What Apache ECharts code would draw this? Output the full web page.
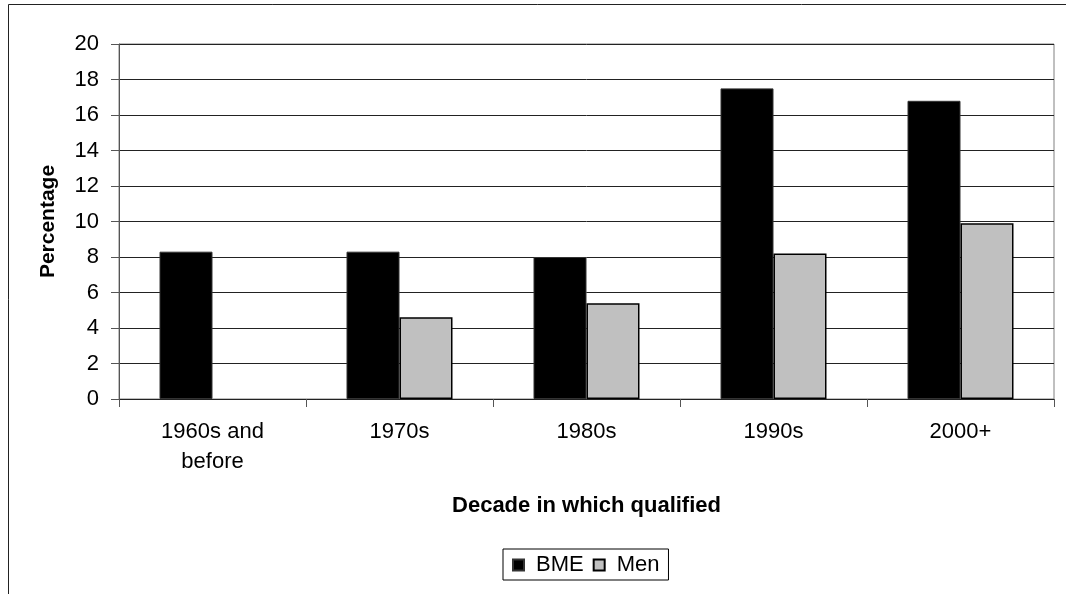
<!DOCTYPE html>
<html>
<head>
<meta charset="utf-8">
<script src="https://cdn.jsdelivr.net/npm/echarts@6/dist/echarts.min.js"></script>
<style>
html,body{margin:0;padding:0;background:#fff;}
#c{width:1066px;height:594px;}
</style>
</head>
<body>
<div id="c"></div>
<script>
const categories = ['1960s and\nbefore', '1970s', '1980s', '1990s', '2000+'];
const bmeValues = [8.3, 8.3, 8.0, 17.5, 16.8];
const menValues = [null, 4.6, 5.4, 8.2, 9.9];
const seriesNames = ['BME', 'Men'];
const yTicks = { min: 0, max: 20, interval: 2 };

const FONT = "'Liberation Sans', Arial, sans-serif";
const chart = echarts.init(document.getElementById('c'), null, { renderer: 'canvas' });
chart.setOption({
  animation: false,
  backgroundColor: '#fff',
  textStyle: { fontFamily: FONT },
  graphic: [{
    type: 'polyline',
    shape: { points: [[8.5, 594], [8.5, 4.5], [1066, 4.5]] },
    style: { stroke: '#222', lineWidth: 1, fill: null },
    silent: true
  }],
  grid: {
    left: 119, right: 12, top: 44, bottom: 195,
    show: true, borderColor: '#808080', borderWidth: 1, backgroundColor: '#fff'
  },
  legend: {
    left: 503, top: 549,
    padding: [5, 9, 4, 9],
    borderColor: '#000', borderWidth: 1,
    itemWidth: 11, itemHeight: 11, itemGap: 9,
    icon: 'rect',
    textStyle: { fontFamily: FONT, fontSize: 22, color: '#000', padding: [0, 0, 0, 7], lineHeight: 22 },
    data: seriesNames
  },
  xAxis: {
    type: 'category',
    data: categories,
    name: 'Decade in which qualified',
    nameLocation: 'middle',
    nameGap: 96,
    nameTextStyle: { fontFamily: FONT, fontSize: 22, fontWeight: 'bold', color: '#000' },
    axisLine: { lineStyle: { color: '#222', width: 1 } },
    axisTick: { show: true, length: 8, alignWithLabel: false, interval: 0, lineStyle: { color: '#555' } },
    axisLabel: { interval: 0, margin: 18, fontSize: 22, lineHeight: 30, color: '#000', fontFamily: FONT },
    splitLine: { show: false }
  },
  yAxis: {
    type: 'value',
    min: yTicks.min, max: yTicks.max, interval: yTicks.interval,
    name: 'Percentage',
    nameLocation: 'middle',
    nameGap: 60,
    nameRotate: 90,
    nameTextStyle: { fontFamily: FONT, fontSize: 21, fontWeight: 'bold', color: '#000' },
    axisLine: { show: true, lineStyle: { color: '#555', width: 1 } },
    axisTick: { show: true, length: 8, lineStyle: { color: '#555' } },
    axisLabel: { margin: 20, fontSize: 22, color: '#000', fontFamily: FONT },
    splitLine: { show: true, lineStyle: { color: '#222', width: 1 } }
  },
  series: [
    {
      name: seriesNames[0], type: 'bar', data: bmeValues,
      barWidth: 53, barGap: '0%',
      itemStyle: { color: '#000', borderColor: '#333', borderWidth: 1 }
    },
    {
      name: seriesNames[1], type: 'bar', data: menValues,
      barWidth: 53, barGap: '0%',
      itemStyle: { color: '#c0c0c0', borderColor: '#000', borderWidth: 1.5 }
    }
  ]
});
</script>
</body>
</html>
